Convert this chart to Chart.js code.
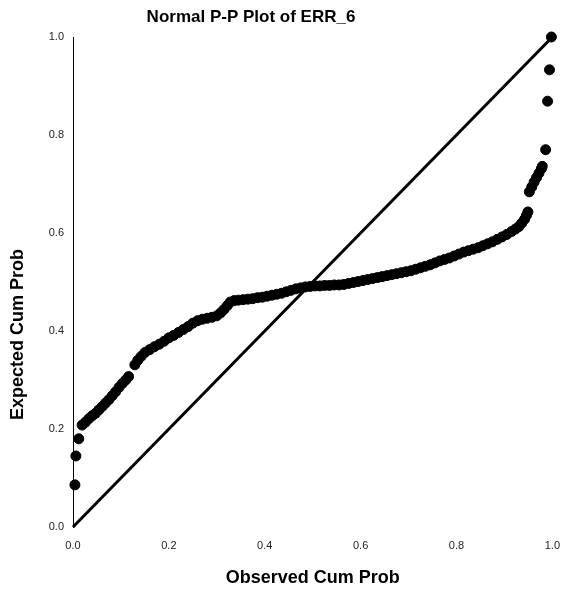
<!DOCTYPE html>
<html>
<head>
<meta charset="utf-8">
<title>Normal P-P Plot of ERR_6</title>
<script src="https://cdn.jsdelivr.net/npm/chart.js@4/dist/chart.umd.min.js"></script>
<style>
  html, body { margin: 0; padding: 0; background: #fff; }
  #wrap { width: 572px; height: 589px; }
</style>
</head>
<body>
<div id="wrap"><canvas id="ppChart" width="572" height="589"></canvas></div>
<script>
// Observed vs expected cumulative probabilities
const observedCumProb = [
  0.004, 0.006, 0.012,
  0.019, 0.026, 0.033, 0.040, 0.047, 0.054, 0.061, 0.068, 0.075, 0.082,
  0.089, 0.096, 0.103, 0.110, 0.116,
  0.129, 0.135, 0.142, 0.150, 0.160, 0.170, 0.180, 0.190, 0.200, 0.210,
  0.220, 0.230, 0.240, 0.250, 0.260, 0.270, 0.280, 0.290, 0.300, 0.308,
  0.315, 0.322, 0.328, 0.336, 0.345, 0.355, 0.365, 0.375, 0.385, 0.395,
  0.405, 0.415, 0.425, 0.435, 0.445, 0.455, 0.465, 0.475, 0.485, 0.495,
  0.505, 0.515, 0.525, 0.535, 0.545, 0.555, 0.565, 0.575, 0.585, 0.595,
  0.605, 0.615, 0.625, 0.635, 0.645, 0.655, 0.665, 0.675, 0.685, 0.695,
  0.705, 0.715, 0.725, 0.735, 0.745, 0.755, 0.765, 0.775, 0.785, 0.795,
  0.805, 0.815, 0.825, 0.835, 0.845, 0.855, 0.865, 0.875, 0.885, 0.895,
  0.905, 0.915, 0.923, 0.930, 0.936, 0.942, 0.946, 0.949,
  0.952, 0.957, 0.962, 0.967, 0.972, 0.977, 0.979,
  0.986, 0.990, 0.994, 0.998
];
const expectedCumProb = [
  0.086, 0.145, 0.180,
  0.208, 0.214, 0.221, 0.227, 0.232, 0.239, 0.246, 0.253, 0.260, 0.268,
  0.276, 0.285, 0.293, 0.300, 0.307,
  0.331, 0.340, 0.348, 0.356, 0.362, 0.368, 0.373, 0.379, 0.386, 0.391,
  0.397, 0.403, 0.409, 0.416, 0.421, 0.424, 0.426, 0.428, 0.431, 0.437,
  0.444, 0.452, 0.459, 0.462, 0.463, 0.464, 0.465, 0.466, 0.468, 0.469,
  0.471, 0.473, 0.475, 0.477, 0.480, 0.483, 0.486, 0.488, 0.490, 0.491,
  0.492, 0.492, 0.493, 0.493, 0.494, 0.494, 0.495, 0.497, 0.499, 0.501,
  0.503, 0.505, 0.507, 0.509, 0.511, 0.513, 0.515, 0.517, 0.519, 0.521,
  0.523, 0.526, 0.529, 0.532, 0.535, 0.539, 0.543, 0.546, 0.549, 0.553,
  0.557, 0.561, 0.564, 0.567, 0.570, 0.574, 0.578, 0.582, 0.587, 0.592,
  0.597, 0.603, 0.608, 0.613, 0.620, 0.628, 0.636, 0.643,
  0.684, 0.694, 0.704, 0.713, 0.722, 0.731, 0.736,
  0.770, 0.869, 0.933, 1.000
];

// reference line y = x
const refLineX = [0, 1];
const refLineY = [0, 1];

const axisTicks = [0, 0.2, 0.4, 0.6, 0.8, 1.0];

const chartTitle = 'Normal P-P Plot of ERR_6';
const yAxisTitle = 'Expected Cum Prob';
const xAxisTitle = 'Observed Cum Prob';

const FONT = "'Liberation Sans', Arial, sans-serif";

// main title and y-axis title are off-centre in the original, drawn by hand
const titlesPlugin = {
  id: 'titles',
  afterDraw(chart) {
    const { ctx, chartArea } = chart;
    ctx.save();
    ctx.fillStyle = '#000';
    ctx.textAlign = 'center';
    ctx.textBaseline = 'middle';

    ctx.font = 'bold 17px ' + FONT;
    ctx.fillText(chartTitle, 251, 17);

    const cy = chartArea.top + (chartArea.bottom - chartArea.top) * 0.607;
    ctx.translate(18, cy);
    ctx.rotate(-Math.PI / 2);
    ctx.font = 'bold 18px ' + FONT;
    ctx.fillText(yAxisTitle, 0, 0);
    ctx.restore();
  }
};

new Chart(document.getElementById('ppChart'), {
  type: 'scatter',
  data: {
    datasets: [
      {
        label: 'ERR_6',
        data: observedCumProb.map((x, i) => ({ x: x, y: expectedCumProb[i] })),
        backgroundColor: '#000',
        borderColor: '#000',
        pointRadius: 5,
        pointHoverRadius: 5,
        clip: false
      },
      {
        type: 'line',
        label: 'Reference',
        data: refLineX.map((x, i) => ({ x: x, y: refLineY[i] })),
        borderColor: '#000',
        borderWidth: 3,
        pointRadius: 0,
        fill: false,
        clip: false
      }
    ]
  },
  options: {
    responsive: false,
    animation: false,
    layout: { padding: { left: 0, right: 0, top: 37, bottom: 0 } },
    plugins: {
      legend: { display: false },
      tooltip: { enabled: false },
      title: { display: false }
    },
    scales: {
      x: {
        type: 'linear',
        min: 0,
        max: 1,
        afterBuildTicks: (scale) => { scale.ticks = axisTicks.map(v => ({ value: v })); },
        afterFit: (scale) => { scale.height = 62; },
        grid: { display: false, drawTicks: false },
        border: { display: false },
        ticks: {
          padding: 12,
          color: '#222',
          font: { family: FONT, size: 11 },
          callback: (v) => Number(v).toFixed(1)
        },
        title: {
          display: true,
          text: xAxisTitle,
          color: '#000',
          font: { family: FONT, size: 18, weight: 'bold' },
          padding: { top: 0, bottom: 0 }
        }
      },
      y: {
        type: 'linear',
        min: 0,
        max: 1,
        afterBuildTicks: (scale) => { scale.ticks = axisTicks.map(v => ({ value: v })); },
        afterFit: (scale) => { scale.width = 73; },
        grid: { display: false, drawTicks: false },
        border: { display: true, color: '#000', width: 1 },
        ticks: {
          padding: 9,
          color: '#222',
          font: { family: FONT, size: 11 },
          callback: (v) => Number(v).toFixed(1)
        }
      }
    }
  },
  plugins: [titlesPlugin]
});
</script>
</body>
</html>
